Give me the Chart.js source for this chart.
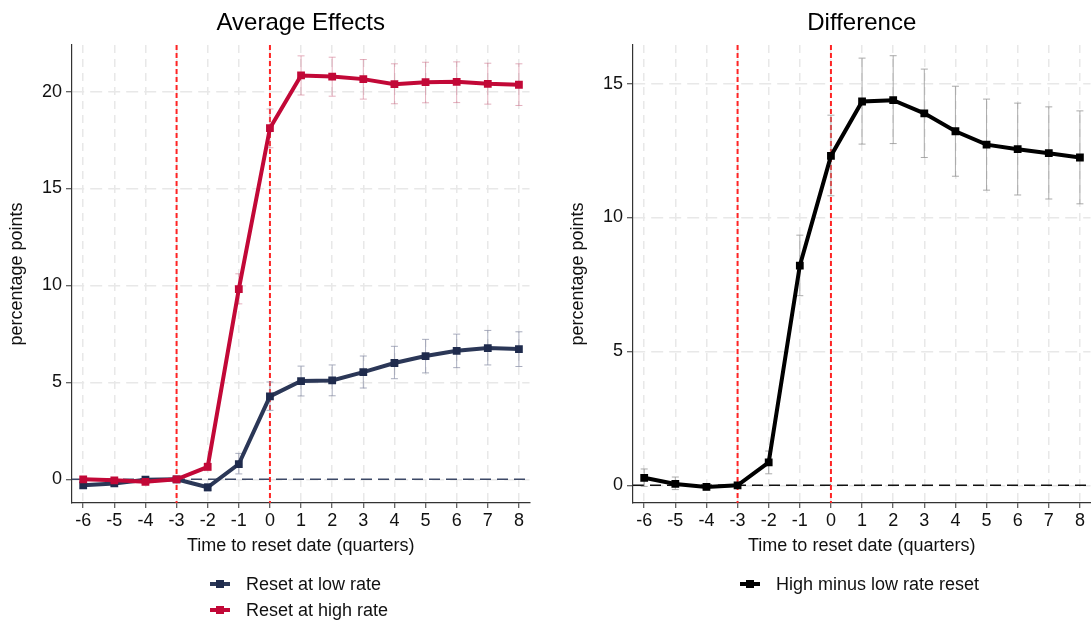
<!DOCTYPE html>
<html>
<head>
<meta charset="utf-8">
<script src="https://cdn.jsdelivr.net/npm/chart.js@4.4.1/dist/chart.umd.min.js"></script>
<style>
  html, body { margin:0; padding:0; background:#fff; width:1091px; height:621px; overflow:hidden; }
  .panel { position:absolute; top:0; width:535px; height:621px; }
  .legend { position:absolute; font-family:"Liberation Sans", Arial, sans-serif; font-size:18px; color:#111; }
  .item { position:absolute; white-space:nowrap; height:22px; line-height:22px; }
  .sym { position:absolute; top:9px; left:0; width:20px; height:4px; }
  .sym i { position:absolute; left:6px; top:-2px; width:8px; height:8px; }
  .lbl { position:absolute; left:36px; top:0; }
</style>
</head>
<body>
<div class="panel" style="left:0"><canvas id="c1" width="535" height="621"></canvas></div>
<div class="panel" style="left:561px"><canvas id="c2" width="535" height="621"></canvas></div>

<div class="legend">
  <div class="item" style="left:210px; top:573px;"><div class="sym" style="background:#2b3757"><i style="background:#1f2b4d"></i></div><span class="lbl">Reset at low rate</span></div>
  <div class="item" style="left:210px; top:599px;"><div class="sym" style="background:#c20837"><i style="background:#c20837"></i></div><span class="lbl">Reset at high rate</span></div>
  <div class="item" style="left:740px; top:573px;"><div class="sym" style="background:#000"><i style="background:#000"></i></div><span class="lbl">High minus low rate reset</span></div>
</div>

<script>
// ---------- data ----------
const quarters = [-6,-5,-4,-3,-2,-1,0,1,2,3,4,5,6,7,8];

const lowRate  = [-0.31,-0.21,-0.02,0.00,-0.41,0.79,4.28,5.07,5.10,5.53,6.00,6.36,6.63,6.77,6.72];
const lowLo    = [-0.45,-0.35,-0.12,0.00,-0.60,0.28,3.56,4.30,4.31,4.71,5.19,5.49,5.76,5.90,5.82];
const lowHi    = [-0.17,-0.07,0.08,0.00,-0.22,1.34,5.02,5.84,5.90,6.36,6.86,7.22,7.49,7.68,7.61];

const highRate = [0.00,-0.05,-0.13,0.00,0.64,9.81,18.11,20.83,20.77,20.64,20.38,20.48,20.50,20.40,20.35];
const highLo   = [-0.10,-0.15,-0.23,0.00,0.45,9.05,17.10,19.82,19.76,19.61,19.37,19.42,19.43,19.35,19.28];
const highHi   = [0.10,0.05,-0.03,0.00,0.85,10.60,19.10,21.84,21.77,21.65,21.43,21.51,21.53,21.46,21.43];

const diff     = [0.28,0.05,-0.06,0.00,0.86,8.20,12.30,14.33,14.38,13.89,13.22,12.72,12.55,12.40,12.24];
const diffLo   = [-0.04,-0.16,-0.18,0.00,0.43,7.08,10.81,12.74,12.76,12.24,11.54,11.02,10.84,10.69,10.51];
const diffHi   = [0.61,0.31,0.06,0.00,1.28,9.34,13.82,15.95,16.04,15.54,14.90,14.42,14.27,14.13,13.98];

const leftYTicks  = [0,5,10,15,20];
const rightYTicks = [0,5,10,15];
const refQuarters = [-3, 0];

// ---------- helpers ----------
const FONT = '"Liberation Sans", Arial, sans-serif';

const refPlugin = {
  id: 'refs',
  beforeDatasetsDraw(chart, args, opts) {
    const {ctx, chartArea: a, scales: {x, y}} = chart;
    ctx.save();
    ctx.beginPath(); ctx.rect(a.left, a.top, a.right - a.left, a.bottom - a.top); ctx.clip();
    const y0 = y.getPixelForValue(0);
    ctx.strokeStyle = opts.zeroColor; ctx.lineWidth = 1.5; ctx.setLineDash([11, 6]);
    ctx.beginPath(); ctx.moveTo(a.left, y0); ctx.lineTo(a.right, y0); ctx.stroke();
    ctx.strokeStyle = '#ff2424'; ctx.lineWidth = 2; ctx.setLineDash([5, 3]);
    refQuarters.forEach(q => {
      const xp = x.getPixelForValue(q);
      ctx.beginPath(); ctx.moveTo(xp, a.top); ctx.lineTo(xp, a.bottom); ctx.stroke();
    });
    ctx.setLineDash([]);
    chart.data.datasets.forEach(ds => {
      if (!ds.lo) return;
      ctx.strokeStyle = ds.ciColor; ctx.lineWidth = 1;
      quarters.forEach((q, i) => {
        if (ds.lo[i] === ds.hi[i]) return;
        const xp = x.getPixelForValue(q);
        const yl = y.getPixelForValue(ds.lo[i]);
        const yh = y.getPixelForValue(ds.hi[i]);
        ctx.beginPath();
        ctx.moveTo(xp, yl); ctx.lineTo(xp, yh);
        ctx.moveTo(xp - 3.5, yl); ctx.lineTo(xp + 3.5, yl);
        ctx.moveTo(xp - 3.5, yh); ctx.lineTo(xp + 3.5, yh);
        ctx.stroke();
      });
    });
    ctx.restore();
  }
};

function makeChart(id, title, datasets, yMin, yMax, yTicks, zeroColor) {
  return new Chart(document.getElementById(id), {
    type: 'line',
    data: { datasets },
    plugins: [refPlugin],
    options: {
      responsive: false,
      animation: false,
      layout: { padding: { left: 0, right: 0, top: 0, bottom: 64 } },
      plugins: {
        legend: { display: false },
        tooltip: { enabled: false },
        title: {
          display: true, text: title, fullSize: false, color: '#000',
          font: { family: FONT, size: 24, weight: 'normal' },
          padding: { top: 9.3, bottom: 6.9 }
        },
        refs: { zeroColor }
      },
      elements: {
        line: { tension: 0, borderWidth: 4 },
        point: { pointStyle: 'rect', radius: 5.5, borderWidth: 0 }
      },
      scales: {
        x: {
          type: 'linear', min: -6.36, max: 8.34,
          afterBuildTicks: s => { s.ticks = quarters.map(v => ({ value: v })); },
          afterFit: s => { s.height = 54; },
          ticks: { color: '#111', font: { family: FONT, size: 18 }, padding: 2, maxRotation: 0, autoSkip: false },
          grid: { color: '#e8e8e8', lineWidth: 1.5, tickColor: '#333', tickLength: 5, tickBorderDash: [], tickWidth: 1 },
          border: { display: true, color: '#333', width: 1.2, dash: [8, 6] },
          title: { display: true, text: 'Time to reset date (quarters)', color: '#111', font: { family: FONT, size: 18 }, padding: { top: 0, bottom: 0 } }
        },
        y: {
          type: 'linear', min: yMin, max: yMax,
          afterBuildTicks: s => { s.ticks = yTicks.map(v => ({ value: v })); },
          afterFit: s => { s.width = 72; },
          ticks: { color: '#111', font: { family: FONT, size: 18 }, padding: 4 },
          grid: { color: '#e8e8e8', lineWidth: 1.5, tickColor: '#333', tickLength: 6, tickBorderDash: [], tickWidth: 1 },
          border: { display: true, color: '#333', width: 1.2, dash: [12, 6] },
          title: { display: true, text: 'percentage points', color: '#111', font: { family: FONT, size: 18 }, padding: { top: 6, bottom: 0 } }
        }
      }
    }
  });
}

const pts = arr => quarters.map((q, i) => ({ x: q, y: arr[i] }));

makeChart('c1', 'Average Effects', [
  { label: 'Reset at low rate', data: pts(lowRate), borderColor: '#2b3757', backgroundColor: '#1f2b4d',
    lo: lowLo, hi: lowHi, ciColor: 'rgba(140,146,168,0.75)', order: 1 },
  { label: 'Reset at high rate', data: pts(highRate), borderColor: '#c20837', backgroundColor: '#c20837',
    lo: highLo, hi: highHi, ciColor: 'rgba(205,110,135,0.55)', order: 0 }
], -1.22, 22.4, leftYTicks, '#3c4866');

makeChart('c2', 'Difference', [
  { label: 'High minus low rate reset', data: pts(diff), borderColor: '#000', backgroundColor: '#000',
    lo: diffLo, hi: diffHi, ciColor: 'rgba(150,150,150,0.8)' }
], -0.66, 16.44, rightYTicks, '#111');
</script>
</body>
</html>
